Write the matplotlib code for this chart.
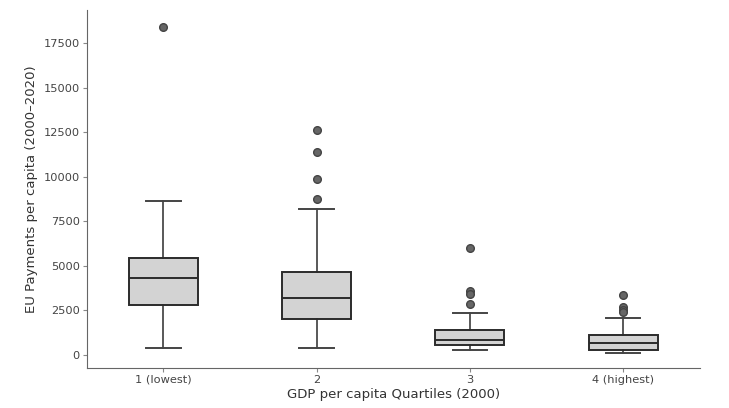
import matplotlib.pyplot as plt

# Data (box stats per GDP quartile)
labels = ['1 (lowest)', '2', '3', '4 (highest)']
whislo = [410, 410, 300, 130]
q1 = [2820, 2000, 545, 300]
med = [4340, 3215, 825, 675]
q3 = [5425, 4670, 1385, 1120]
whishi = [8660, 8200, 2340, 2075]
fliers = [
    [18400],
    [12620, 11400, 9870, 8730],
    [5990, 3590, 3420, 2880],
    [3380, 2680, 2530, 2420],
]

stats = []
for i in range(len(labels)):
    stats.append({'label': labels[i], 'whislo': whislo[i], 'q1': q1[i], 'med': med[i],
                  'q3': q3[i], 'whishi': whishi[i], 'fliers': fliers[i]})

fig = plt.figure(figsize=(7.29, 4.08), dpi=100)
ax = fig.add_axes([0.119, 0.098, 0.841, 0.877])

edge = '#2b2b2b'
ax.bxp(stats, positions=range(len(labels)), widths=0.45, patch_artist=True,
       boxprops=dict(facecolor='#d3d3d3', edgecolor=edge, linewidth=1.4),
       medianprops=dict(color=edge, linewidth=1.4),
       whiskerprops=dict(color=edge, linewidth=1.1),
       capprops=dict(color='#444444', linewidth=1.4),
       flierprops=dict(marker='o', markerfacecolor='#666666', markeredgecolor='#444444',
                       markersize=5.5))

ax.set_xlim(-0.5, 3.5)
ax.set_ylim(-730, 19350)
ax.set_yticks([0, 2500, 5000, 7500, 10000, 12500, 15000, 17500])
ax.set_xlabel('GDP per capita Quartiles (2000)', fontsize=9.5, color='#333333', labelpad=2)
ax.set_ylabel('EU Payments per capita (2000–2020)', fontsize=9.5, color='#333333', labelpad=4)
ax.tick_params(labelsize=8.2, colors='#444444', length=3, color='#888888', pad=2)
for s in ['top', 'right']:
    ax.spines[s].set_visible(False)
for s in ['left', 'bottom']:
    ax.spines[s].set_color('#666666')

fig.savefig('out.png', dpi=100)
